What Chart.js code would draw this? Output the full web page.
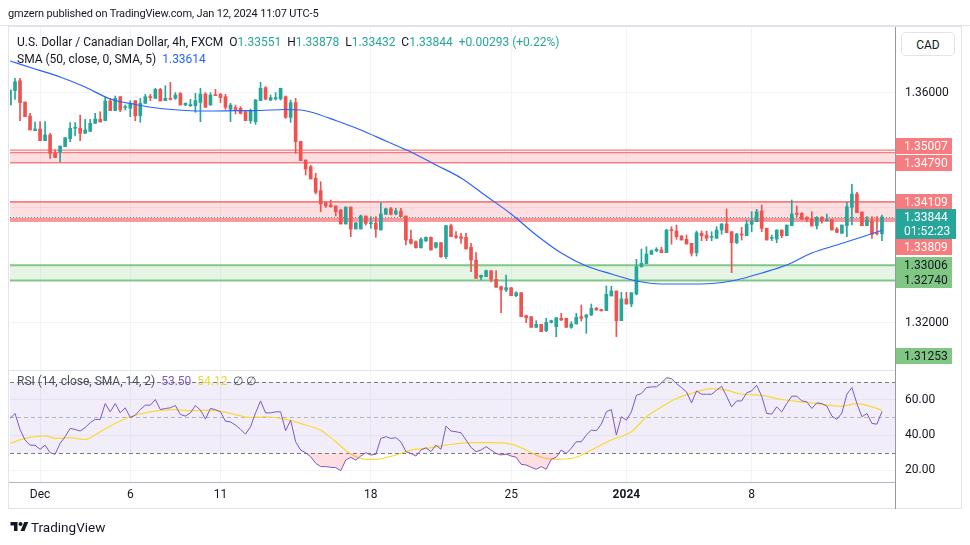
<!DOCTYPE html>
<html><head><meta charset="utf-8">
<script src="https://cdn.jsdelivr.net/npm/chart.js@4.4.1/dist/chart.umd.min.js"></script>
<style>
html,body{margin:0;padding:0;background:#fff;width:970px;height:545px;overflow:hidden;font-family:Roboto,"Noto Sans",sans-serif;color:#131722;}
#wrap{position:relative;width:970px;height:545px;}
canvas{position:absolute;left:0;top:0;}
.t{position:absolute;white-space:nowrap;font-size:12px;line-height:14px;}
.ln{position:absolute;}
.g{color:#26a69a}
</style></head><body>
<div id="wrap">
<div class="ln" style="left:0;top:25px;width:970px;height:1px;background:#e0e3eb"></div>
<div class="ln" style="left:8px;top:26px;width:954px;height:483px;border:1px solid #e0e3eb;box-sizing:border-box"></div>
<canvas id="main" width="970" height="545"></canvas>
<canvas id="rsi" width="970" height="545"></canvas>
<div class="ln" style="left:9px;top:370px;width:886px;height:1px;background:#e0e3eb"></div>
<div class="ln" style="left:9px;top:482px;width:886px;height:1px;background:#b2b5be"></div>
<div class="ln" style="left:895px;top:27px;width:1px;height:482px;background:#9598a1"></div>
<div class="t" style="left:8px;top:7px;font-size:11px;letter-spacing:-0.15px">gmzern published on TradingView.com, Jan 12, 2024 11:07 UTC-5</div>
<div class="t" id="leg1" style="left:17px;top:35px"></div>
<div class="t" id="leg2" style="left:17px;top:52px"></div>
<div class="t" id="leg3" style="left:17px;top:374px"></div>
<div class="t" style="left:901px;top:32px;width:54px;height:24px;line-height:24px;border:1px solid #e0e3eb;border-radius:5px;text-align:center;box-sizing:border-box;background:#fff">CAD</div>
<div class="t" style="left:10px;top:519px;font-size:13.5px;line-height:16px;color:#131722">
<svg width="19" height="14" viewBox="0 0 36 28" style="vertical-align:-2px;margin-right:2px"><path d="M14 22H7V11H0V4h14v18z" fill="#131722"/><circle cx="20" cy="8" r="4" fill="#131722"/><path d="M28 22h-8l7.5-18h8L28 22z" fill="#131722"/></svg>TradingView</div>
</div>
<script>
// ---------- DATA ----------
const opens = [1.35791,1.36041,1.36214,1.35843,1.35600,1.35345,1.35374,1.35171,1.35270,1.34951,
1.34974,1.35067,1.35206,1.35386,1.35386,1.35299,1.35333,1.35472,1.35542,1.35519,
1.35861,1.35693,1.35936,1.35745,1.35733,1.35867,1.35606,1.35820,1.35936,1.35907,
1.36064,1.35867,1.35907,1.35907,1.35994,1.35791,1.35780,1.35780,1.35838,1.35983,
1.35791,1.35965,1.35977,1.35936,1.35716,1.35745,1.35733,1.35675,1.35519,1.35501,
1.35867,1.36093,1.35878,1.35896,1.35896,1.35936,1.35577,1.35832,1.35160,1.34835,
1.34719,1.34516,1.34302,1.34093,1.34052,1.34035,1.33965,1.33722,1.34017,1.33635,
1.33635,1.33861,1.33727,1.33734,1.33617,1.33890,1.33988,1.33896,1.33948,1.33861,
1.33456,1.33414,1.33310,1.33426,1.33490,1.33317,1.33397,1.33153,1.33692,1.33513,
1.33501,1.33490,1.33317,1.33096,1.32795,1.32805,1.32910,1.32760,1.32631,1.32574,
1.32614,1.32475,1.32527,1.32127,1.32110,1.31925,1.31977,1.31866,1.32012,1.31936,
1.32082,1.32082,1.31925,1.31983,1.32110,1.32099,1.32139,1.32256,1.32232,1.32214,
1.32470,1.32557,1.32040,1.32417,1.32330,1.32504,1.32979,1.33030,1.33195,1.33257,
1.33270,1.33223,1.33617,1.33600,1.33513,1.33456,1.33386,1.33223,1.33560,1.33530,
1.33490,1.33473,1.33617,1.33722,1.33588,1.33397,1.33548,1.33518,1.33716,1.33762,
1.33948,1.33647,1.33473,1.33461,1.33617,1.33518,1.33692,1.33908,1.33908,1.33832,
1.33809,1.33692,1.33838,1.33779,1.33796,1.33635,1.33560,1.33692,1.34012,1.34243,
1.33930,1.33692,1.33779,1.33560,1.33551];
const highs = [1.36052,1.36255,1.36255,1.35843,1.35646,1.35496,1.35501,1.35501,1.35299,1.35010,
1.35078,1.35223,1.35484,1.35484,1.35617,1.35542,1.35542,1.35646,1.35675,1.35925,
1.35907,1.35948,1.35936,1.35791,1.35867,1.35867,1.35907,1.35977,1.35977,1.36081,
1.36081,1.36128,1.36186,1.36006,1.36006,1.35830,1.35890,1.35994,1.36081,1.36006,
1.36006,1.36064,1.35994,1.35977,1.35820,1.35791,1.35762,1.35693,1.35722,1.35890,
1.36186,1.36110,1.35965,1.36006,1.36081,1.35948,1.35878,1.35907,1.35160,1.34835,
1.34740,1.34603,1.34458,1.34093,1.34139,1.34035,1.33977,1.34017,1.34017,1.33744,
1.33878,1.33861,1.33849,1.33849,1.34092,1.34000,1.34012,1.33995,1.33995,1.33861,
1.33617,1.33430,1.33480,1.33500,1.33500,1.33397,1.33400,1.33700,1.33722,1.33588,
1.33560,1.33560,1.33386,1.33223,1.32835,1.32922,1.32910,1.32910,1.32640,1.32835,
1.32614,1.32544,1.32527,1.32139,1.32110,1.32040,1.31977,1.32082,1.32050,1.32092,
1.32169,1.32082,1.32023,1.32169,1.32313,1.32150,1.32330,1.32270,1.32240,1.32644,
1.32639,1.32557,1.32534,1.32534,1.32527,1.33108,1.33287,1.33327,1.33270,1.33310,
1.33317,1.33630,1.33675,1.33704,1.33520,1.33530,1.33386,1.33600,1.33600,1.33600,
1.33588,1.33675,1.33730,1.33983,1.33588,1.33560,1.33664,1.33791,1.33936,1.33977,
1.34052,1.33650,1.33530,1.33620,1.33617,1.33704,1.34139,1.34035,1.33920,1.33849,
1.33936,1.33850,1.33849,1.33896,1.33800,1.33658,1.33704,1.34099,1.34412,1.34273,
1.33935,1.33849,1.33849,1.33849,1.33878];
const lows = [1.35791,1.35890,1.35519,1.35588,1.35357,1.35345,1.35171,1.35171,1.34864,1.34876,
1.34806,1.35067,1.35154,1.35252,1.35171,1.35299,1.35333,1.35472,1.35496,1.35519,
1.35693,1.35693,1.35675,1.35704,1.35588,1.35519,1.35490,1.35820,1.35867,1.35907,
1.35861,1.35867,1.35878,1.35890,1.35791,1.35780,1.35762,1.35664,1.35501,1.35751,
1.35791,1.35954,1.35832,1.35716,1.35501,1.35635,1.35635,1.35519,1.35472,1.35455,
1.35867,1.35890,1.35867,1.35878,1.35878,1.35559,1.35490,1.34951,1.34823,1.34574,
1.34505,1.34244,1.33936,1.34010,1.34012,1.33861,1.33722,1.33722,1.33501,1.33635,
1.33635,1.33704,1.33647,1.33490,1.33617,1.33890,1.33878,1.33878,1.33849,1.33357,
1.33370,1.33300,1.33300,1.33420,1.33270,1.33300,1.33140,1.33125,1.33501,1.33473,
1.33386,1.33287,1.32892,1.32777,1.32748,1.32805,1.32713,1.32621,1.32179,1.32544,
1.32475,1.32457,1.32110,1.32005,1.31925,1.31925,1.31849,1.31849,1.32000,1.31762,
1.32040,1.31925,1.31908,1.31983,1.32035,1.31821,1.32130,1.32220,1.32205,1.32214,
1.32470,1.31762,1.32040,1.32330,1.32283,1.32490,1.32970,1.33030,1.33190,1.33240,
1.33223,1.33223,1.33369,1.33456,1.33443,1.33374,1.33165,1.33165,1.33431,1.33431,
1.33431,1.33473,1.33543,1.33571,1.32875,1.33380,1.33443,1.33518,1.33588,1.33762,
1.33588,1.33443,1.33431,1.33397,1.33484,1.33518,1.33692,1.33849,1.33803,1.33762,
1.33687,1.33635,1.33734,1.33770,1.33617,1.33571,1.33560,1.33501,1.33704,1.33918,
1.33692,1.33692,1.33473,1.33530,1.33432];
const closes = [1.36052,1.36197,1.35832,1.35588,1.35357,1.35374,1.35171,1.35270,1.34951,1.34876,
1.35078,1.35223,1.35386,1.35397,1.35299,1.35357,1.35472,1.35548,1.35496,1.35861,
1.35693,1.35907,1.35704,1.35762,1.35820,1.35606,1.35820,1.35936,1.35919,1.36064,
1.35861,1.35907,1.35890,1.35965,1.35791,1.35820,1.35800,1.35867,1.35983,1.35751,
1.35965,1.35954,1.35919,1.35751,1.35791,1.35716,1.35646,1.35519,1.35687,1.35878,
1.36081,1.35890,1.35919,1.35919,1.36081,1.35577,1.35832,1.35154,1.34823,1.34678,
1.34505,1.34273,1.34070,1.34035,1.34023,1.33936,1.33722,1.34017,1.33635,1.33744,
1.33861,1.33734,1.33744,1.33630,1.33896,1.33988,1.33890,1.33948,1.33849,1.33443,
1.33386,1.33310,1.33456,1.33490,1.33270,1.33397,1.33153,1.33692,1.33501,1.33490,
1.33473,1.33287,1.33096,1.32777,1.32830,1.32910,1.32760,1.32621,1.32574,1.32614,
1.32475,1.32527,1.32110,1.32092,1.31925,1.31977,1.31849,1.32012,1.32040,1.32092,
1.32052,1.31925,1.31983,1.32099,1.32082,1.32139,1.32256,1.32226,1.32214,1.32499,
1.32557,1.32040,1.32417,1.32330,1.32527,1.32979,1.33038,1.33200,1.33257,1.33282,
1.33223,1.33617,1.33605,1.33501,1.33443,1.33374,1.33212,1.33571,1.33518,1.33473,
1.33501,1.33617,1.33722,1.33571,1.33397,1.33548,1.33530,1.33722,1.33774,1.33936,
1.33647,1.33443,1.33484,1.33617,1.33518,1.33704,1.33896,1.33891,1.33803,1.33809,
1.33687,1.33838,1.33779,1.33796,1.33617,1.33577,1.33704,1.34023,1.34243,1.33918,
1.33692,1.33791,1.33543,1.33551,1.33844];

// SMA(50) read at sampled bars
const smaBars = [0,5,10,15,20,25,30,35,40,45,50,55,58,60,65,70,75,80,85,90,95,100,105,110,115,120,125,130,135,140,145,150,155,160,165,170,174];
const smaValues = [1.36557,1.36417,1.36278,1.36104,1.35896,1.35800,1.35730,1.35696,1.35687,1.35692,1.35696,1.35713,1.35704,1.35670,1.35522,1.35357,1.35165,1.34974,1.34748,1.34522,1.34209,1.33896,1.33530,1.33217,1.32991,1.32852,1.32730,1.32678,1.32678,1.32687,1.32748,1.32870,1.33009,1.33217,1.33357,1.33496,1.33614];

// RSI(14) per bar
const rsi = [49.4,52.3,43.2,37.2,34.3,34.2,31.9,34.3,30.0,29.1,
35.3,39.1,43.8,43.2,42.3,44.3,47.0,48.9,48.9,57.9,
53.2,57.9,52.6,55.5,50.0,51.3,54.5,57.0,57.0,60.2,
54.5,55.1,55.5,56.8,51.7,50.8,52.6,56.8,54.2,49.1,
55.1,54.5,53.2,47.9,47.5,45.7,43.2,40.6,44.7,52.6,
59.4,52.6,52.6,53.2,53.2,42.5,48.5,36.2,31.5,30.0,
27.7,24.0,22.1,22.1,21.7,21.5,19.8,25.8,27.4,25.8,
28.1,30.0,28.7,29.1,38.1,39.1,38.1,38.5,36.2,30.6,
29.6,28.1,31.5,32.8,30.6,34.3,31.9,45.1,42.3,41.9,
41.3,37.2,33.0,30.6,31.5,33.4,31.5,29.6,28.7,29.2,
28.1,27.4,23.4,23.0,21.7,20.6,22.1,20.6,26.2,27.4,
31.5,29.6,32.5,36.2,36.2,40.0,42.8,42.5,46.2,53.2,
54.5,40.0,50.4,48.5,53.2,62.6,63.6,67.0,67.4,67.4,
69.6,72.6,72.1,69.2,67.0,64.5,58.3,65.1,63.2,63.2,
63.2,65.5,67.7,62.1,56.0,59.4,59.4,64.0,65.1,68.3,
62.1,52.3,51.9,56.0,53.2,57.9,62.1,62.1,59.4,58.9,
55.1,58.3,57.9,56.4,50.8,48.9,52.6,63.2,67.0,57.9,
50.4,52.3,46.6,46.2,53.5];
// RSI-based SMA(14) read at sampled bars
const rsiSmaBars = [0,3,7,9,12,15,18,21,24,28,33,36,40,44,48,51,55,59,62,65,68,71,73,77,80,83,87,92,96,100,103,106,109,113,116,120,124,127,130,133,137,140,143,146,150,154,158,161,166,169,172,174];
const rsiSmaValues = [35.3,38.1,39.6,38.1,38.5,37.5,41.9,46.6,50.4,53.2,54.5,53.8,54.2,52.3,50.0,50.4,48.9,45.7,42.8,36.2,29.2,26.2,26.2,28.7,31.5,32.5,34.3,35.7,35.7,34.9,31.5,27.4,26.2,27.4,31.5,37.2,41.9,50.4,56.0,60.8,64.5,66.4,65.5,63.2,62.6,60.2,58.9,57.9,56.4,57.9,56.0,54.12];
const rsiLevels = [70, 50, 30];

// Drawn zones (rectangles) and level
const zoneTop    = [1.35007, 1.34962, 1.34109, 1.34109, 1.33006];
const zoneBottom = [1.34790, 1.34790, 1.33809, 1.33774, 1.32740];
const zoneKind   = ['res','res','res','res','sup'];
const extraLevel = 1.31253;

// Time axis
const tickIndex  = [6, 24, 42, 72, 100, 123, 148];
const tickLabels = ['Dec','6','11','18','25','2024','8'];
const priceTicks = [1.32, 1.34, 1.36];
const rsiTicks   = [20, 40, 60];
const countdown  = '01:52:23';

// ---------- STYLE ----------
const F = 'Roboto, "Noto Sans", sans-serif';
const UP = '#26a69a', DOWN = '#ef5350';
const zoneStyle = {
  res: {fill:'rgba(247,124,128,0.13)', line:'#f77c80', lw:1.3, tag:'#f77c80', txt:'#ffffff'},
  sup: {fill:'rgba(129,199,132,0.2)', line:'#81c784', lw:2, tag:'#81c784', txt:'#131722'}
};
const XMIN = 0.0, XMAX = 176.6;
const N = closes.length;
const candleColors = closes.map((c,i)=> c >= opens[i] ? UP : DOWN);

// legend texts
const lastC = closes[N-1], prevC = closes[N-2];
const chg = lastC - prevC;
document.getElementById('leg1').innerHTML =
  'U.S. Dollar / Canadian Dollar, 4h, FXCM&nbsp;&nbsp;O<span class="g">'+opens[N-1].toFixed(5)+
  '</span>&nbsp;&nbsp;H<span class="g">'+highs[N-1].toFixed(5)+
  '</span>&nbsp;&nbsp;L<span class="g">'+lows[N-1].toFixed(5)+
  '</span>&nbsp;&nbsp;C<span class="g">'+lastC.toFixed(5)+
  '</span>&nbsp;&nbsp;<span class="g">'+(chg>=0?'+':'')+chg.toFixed(5)+' ('+(chg>=0?'+':'')+(chg/prevC*100).toFixed(2)+'%)</span>';
document.getElementById('leg2').innerHTML =
  'SMA (50, close, 0, SMA, 5)&nbsp;&nbsp;<span style="color:#2962ff">'+smaValues[smaValues.length-1].toFixed(5)+'</span>';
document.getElementById('leg3').innerHTML =
  '<span style="color:#4a4e59">RSI (14, close, SMA, 14, 2)</span>&nbsp;&nbsp;<span style="color:#7e57c2">'+rsi[N-1].toFixed(2)+
  '</span>&nbsp;&nbsp;<span style="color:#f0d43a">'+rsiSmaValues[rsiSmaValues.length-1].toFixed(2)+
  '</span>&nbsp;&nbsp;<span style="color:#4a4e59">∅&nbsp;∅</span>';

// ---------- PLUGINS ----------
const zonesPlugin = {
  id:'zones',
  beforeDatasetsDraw(chart){
    const {ctx, chartArea:a, scales:{y}} = chart;
    ctx.save();
    ctx.beginPath(); ctx.rect(a.left, a.top, a.right-a.left, a.bottom-a.top); ctx.clip();
    zoneTop.forEach((t,i)=>{
      const st = zoneStyle[zoneKind[i]];
      const y1 = y.getPixelForValue(t), y2 = y.getPixelForValue(zoneBottom[i]);
      ctx.fillStyle = st.fill; ctx.fillRect(a.left, y1, a.right-a.left, y2-y1);
      ctx.strokeStyle = st.line; ctx.lineWidth = st.lw;
      [y1,y2].forEach(yy=>{ctx.beginPath(); ctx.moveTo(a.left,yy); ctx.lineTo(a.right,yy); ctx.stroke();});
    });
    const yp = Math.round(y.getPixelForValue(lastC))+0.5;
    ctx.setLineDash([1,2]); ctx.strokeStyle = UP; ctx.lineWidth = 1;
    ctx.beginPath(); ctx.moveTo(a.left,yp); ctx.lineTo(a.right,yp); ctx.stroke();
    ctx.restore();
  },
  afterDraw(chart){
    const {ctx, scales:{y}} = chart;
    const x0 = 896, w = 56, tx = 904;
    const tags = [
      {v:zoneTop[0], dy:-4, k:'res'}, {v:zoneBottom[0], dy:0, k:'res'},
      {v:zoneTop[2], dy:0, k:'res'}, {v:zoneBottom[2], dy:28, k:'res'},
      {v:zoneTop[4], dy:0, k:'sup'}, {v:zoneBottom[4], dy:0, k:'sup'},
      {v:extraLevel, dy:-10, k:'sup'}
    ];
    ctx.save();
    ctx.font = '12px '+F; ctx.textBaseline = 'middle'; ctx.textAlign = 'left';
    tags.forEach(t=>{
      const st = zoneStyle[t.k];
      const yc = Math.round(y.getPixelForValue(t.v) + t.dy);
      ctx.fillStyle = st.tag; ctx.fillRect(x0, yc-8, w, 16);
      ctx.fillStyle = st.txt; ctx.fillText(t.v.toFixed(5), tx, yc+0.5);
    });
    const yc = Math.round(y.getPixelForValue(lastC));
    ctx.fillStyle = UP; ctx.fillRect(x0, yc-8, w+4, 30);
    ctx.fillStyle = '#fff';
    ctx.fillText(lastC.toFixed(5), tx, yc+0.5);
    ctx.fillText(countdown, tx, yc+14.5);
    ctx.restore();
  }
};

const rsiPlugin = {
  id:'rsiBand',
  beforeDatasetsDraw(chart){
    const {ctx, chartArea:a, scales:{y}} = chart;
    const yU = y.getPixelForValue(rsiLevels[0]), yM = y.getPixelForValue(rsiLevels[1]), yL = y.getPixelForValue(rsiLevels[2]);
    ctx.save();
    ctx.fillStyle = 'rgba(126,87,194,0.1)';
    ctx.fillRect(a.left, yU, a.right-a.left, yL-yU);
    ctx.setLineDash([4,3]); ctx.lineWidth = 1;
    ctx.strokeStyle = '#787b86';
    [yU,yL].forEach(yy=>{const r=Math.round(yy)+0.5; ctx.beginPath(); ctx.moveTo(a.left,r); ctx.lineTo(a.right,r); ctx.stroke();});
    ctx.strokeStyle = 'rgba(120,123,134,0.5)';
    {const r=Math.round(yM)+0.5; ctx.beginPath(); ctx.moveTo(a.left,r); ctx.lineTo(a.right,r); ctx.stroke();}
    ctx.restore();
  }
};

const xScale = (showLabels) => ({
  type:'linear', min:XMIN, max:XMAX, offset:false, bounds:'data',
  grid:{color:'#f0f3fa', drawTicks:false, offset:false},
  border:{display:false},
  afterBuildTicks: s => { s.ticks = tickIndex.map(v=>({value:v})); },
  afterFit: s => { s.height = showLabels ? 26 : 0; },
  ticks: showLabels ? {
    display:true, padding:6, color:'#131722', maxRotation:0, autoSkip:false,
    font: c => ({size:12, family:F, weight: (tickLabels[c.index]==='2024') ? 'bold' : 'normal'}),
    callback: (v, i) => tickLabels[i]
  } : {display:false}
});

// ---------- MAIN CHART ----------
new Chart(document.getElementById('main'), {
  type:'bar',
  data:{ datasets:[
    {type:'line', label:'SMA 50', data: smaBars.map((b,i)=>({x:b, y:smaValues[i]})),
     borderColor:'#2962ff', borderWidth:1.2, pointRadius:0, cubicInterpolationMode:'monotone', order:0},
    {label:'Body', data: opens.map((o,i)=>({x:i, y:[o, closes[i]]})),
     backgroundColor:candleColors, barThickness:3, minBarLength:1, grouped:false, order:1},
    {label:'Wick', data: opens.map((o,i)=>({x:i, y:[lows[i], highs[i]]})),
     backgroundColor:candleColors, barThickness:1, grouped:false, order:2}
  ]},
  options:{
    responsive:false, animation:false, devicePixelRatio:1,
    layout:{padding:{left:10, top:27, right:10, bottom:175}},
    plugins:{legend:{display:false}, tooltip:{enabled:false}},
    scales:{
      x: xScale(false),
      y:{ position:'right', min:1.311826, max:1.371478, bounds:'data',
          grid:{color:'#f0f3fa', drawTicks:false}, border:{display:false},
          afterBuildTicks: s => { s.ticks = priceTicks.map(v=>({value:v})); },
          afterFit: s => { s.width = 65; },
          ticks:{ padding:10, color:'#131722', font:{size:12, family:F},
                  callback: v => (v===1.34 ? '' : v.toFixed(5)) } }
    }
  },
  plugins:[zonesPlugin]
});

// ---------- RSI CHART ----------
const rsiPts = rsi.map((v,i)=>({x:i, y:v}));
new Chart(document.getElementById('rsi'), {
  type:'line',
  data:{ datasets:[
    {label:'RSI', data:rsiPts, borderColor:'#7e57c2', borderWidth:1, pointRadius:0, tension:0,
     fill:{target:{value:rsiLevels[2]}, above:'rgba(0,0,0,0)', below:'rgba(242,54,69,0.16)'}, order:1},
    {label:'RSI OB', data:rsiPts, borderWidth:0, borderColor:'rgba(0,0,0,0)', pointRadius:0,
     fill:{target:{value:rsiLevels[0]}, above:'rgba(76,175,80,0.18)', below:'rgba(0,0,0,0)'}, order:3},
    {label:'RSI MA', data: rsiSmaBars.map((b,i)=>({x:b, y:rsiSmaValues[i]})), borderColor:'#fdd835',
     borderWidth:1.2, pointRadius:0, cubicInterpolationMode:'monotone', order:2}
  ]},
  options:{
    responsive:false, animation:false, devicePixelRatio:1,
    layout:{padding:{left:10, top:371, right:10, bottom:37}},
    plugins:{legend:{display:false}, tooltip:{enabled:false}},
    scales:{
      x: xScale(true),
      y:{ position:'right', min:13.35, max:76.4, bounds:'data',
          grid:{color:'#f0f3fa', drawTicks:false}, border:{display:false},
          afterBuildTicks: s => { s.ticks = rsiTicks.map(v=>({value:v})); },
          afterFit: s => { s.width = 65; },
          ticks:{ padding:10, color:'#131722', font:{size:12, family:F}, callback: v => v.toFixed(2) } }
    }
  },
  plugins:[rsiPlugin]
});
</script>
</body></html>
